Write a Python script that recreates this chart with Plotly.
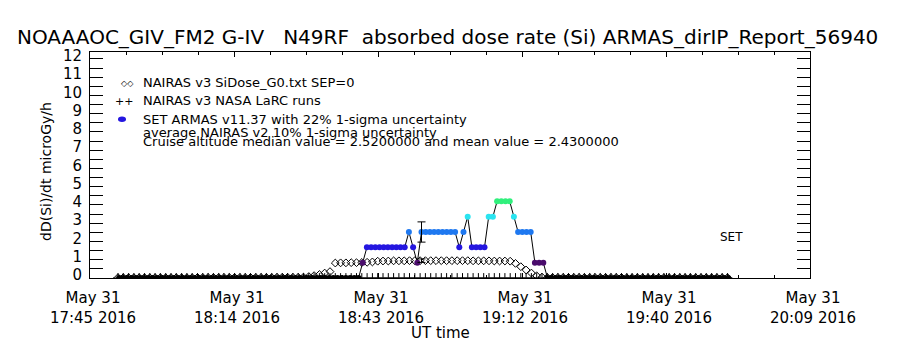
import plotly.graph_objects as go

# ---------------- data ----------------
# time axis in minutes after 17:45 UT, 31 May 2016
X_TICK_MIN = [0.0, 28.8, 57.6, 86.4, 115.2, 144.0]
X_TICK_TEXT = ["May 31<br>17:45 2016", "May 31<br>18:14 2016", "May 31<br>18:43 2016",
               "May 31<br>19:12 2016", "May 31<br>19:40 2016", "May 31<br>20:09 2016"]
Y_TICKS = [0, 1, 2, 3, 4, 5, 6, 7, 8, 9, 10, 11, 12]

# NAIRAS v3 SiDose model (sample cadence ~1.06 min)
NAIRAS_T0 = 5.6
NAIRAS_DT = 1.06
NAIRAS_V = [
    0.02, 0.02, 0.02, 0.02, 0.02, 0.02, 0.02, 0.02, 0.02, 0.02, 0.02, 0.02, 0.02, 0.02, 0.02,
    0.03, 0.03, 0.03, 0.03, 0.03, 0.03, 0.03, 0.03, 0.03, 0.03, 0.03, 0.03, 0.03, 0.03, 0.03,
    0.04, 0.04, 0.04, 0.04, 0.04,
    0.05, 0.08, 0.13, 0.19, 0.27, 0.35,
    0.82, 0.83, 0.83, 0.84, 0.84, 0.85, 0.86,
    0.88, 0.92,
    0.93, 0.93, 0.94, 0.94, 0.94, 0.95, 0.95, 0.95, 0.95, 0.95, 0.95, 0.95, 0.95, 0.95, 0.95,
    0.95, 0.95, 0.94, 0.94, 0.94, 0.94, 0.93, 0.93, 0.93, 0.92,
    0.80, 0.62, 0.44, 0.27, 0.12, 0.05,
    0.03, 0.03, 0.03, 0.03, 0.03, 0.03, 0.03, 0.03, 0.03, 0.03, 0.03, 0.03, 0.03, 0.03, 0.03,
    0.02, 0.02, 0.02, 0.02, 0.02, 0.02, 0.02, 0.02, 0.02, 0.02,
    0.02, 0.02, 0.02, 0.02, 0.02, 0.02, 0.02, 0.02, 0.02, 0.02,
]
NAIRAS_LARC_V = 0.0  # LaRC runs plotted at zero

# SET ARMAS v11.37 dose rate (sample cadence ~0.84 min)
ARMAS_T0 = 5.82
ARMAS_DT = 0.84
ARMAS_V = [
    0, 0, 0, 0, 0, 0, 0, 0, 0, 0, 0, 0, 0, 0, 0, 0, 0, 0, 0, 0,
    0, 0, 0, 0, 0, 0, 0, 0, 0, 0, 0, 0, 0, 0, 0, 0, 0, 0, 0, 0,
    0, 0, 0, 0, 0, 0, 0, 0, 0, 0, 0, 0, 0, 0, 0, 0, 0, 0,
    0.84,
    1.68, 1.68, 1.68, 1.68, 1.68, 1.68, 1.68, 1.68, 1.68, 1.68,
    2.52, 1.68, 0.84,
    2.52, 2.52, 2.52, 2.52, 2.52, 2.52, 2.52, 2.52, 2.52,
    1.68, 2.52, 3.36,
    1.68, 1.68, 1.68, 1.68,
    3.36, 3.36,
    4.20, 4.20, 4.20, 4.20,
    3.36,
    2.52, 2.52, 2.52, 2.52,
    0.84, 0.84, 0.84,
    0, 0, 0, 0, 0, 0, 0, 0, 0, 0, 0, 0, 0, 0, 0, 0, 0, 0, 0, 0,
    0, 0, 0, 0, 0, 0, 0, 0, 0, 0, 0, 0, 0, 0, 0, 0, 0, 0, 0, 0,
    0, 0, 0, 0,
]
ARMAS_LEVELS = [0.0, 0.84, 1.68, 2.52, 3.36, 4.20]
ARMAS_LEVEL_COLORS = ["#000000", "#4a0c6c", "#2416e0", "#1e78f0", "#2ae4f0", "#30f07c"]

MEDIAN_VALUE = 2.52
MEAN_VALUE = 2.43
ARMAS_UNC = 0.22
NAIRAS_UNC = 0.10
ERRBAR_INDEX = 72  # ARMAS sample where the uncertainty bars are drawn

TITLE = "NOAAAOC_GIV_FM2 G-IV   N49RF  absorbed dose rate (Si) ARMAS_dirIP_Report_56940"
LEGEND_NAIRAS = "NAIRAS v3 SiDose_G0.txt SEP=0"
LEGEND_LARC = "NAIRAS v3 NASA LaRC runs"
LEGEND_ARMAS = "SET ARMAS v11.37 with 22% 1-sigma uncertainty"
NOTE_NAIRAS = "average NAIRAS v2 10% 1-sigma uncertainty"

# ---------------- figure ----------------
FONT = "DejaVu Sans"
nairas_t = [NAIRAS_T0 + NAIRAS_DT * i for i in range(len(NAIRAS_V))]
armas_t = [ARMAS_T0 + ARMAS_DT * i for i in range(len(ARMAS_V))]


def level_color(v):
    best = min(range(len(ARMAS_LEVELS)), key=lambda j: abs(ARMAS_LEVELS[j] - v))
    return ARMAS_LEVEL_COLORS[best]


armas_colors = [level_color(v) for v in ARMAS_V]

fig = go.Figure()

# NAIRAS LaRC runs (+ at zero)
fig.add_trace(go.Scatter(
    x=nairas_t, y=[NAIRAS_LARC_V] * len(nairas_t), mode="markers",
    marker=dict(symbol="cross-thin", size=7, line=dict(width=1, color="black"), color="black"),
    name=LEGEND_LARC))

# ARMAS connecting line
fig.add_trace(go.Scatter(
    x=armas_t, y=ARMAS_V, mode="lines", line=dict(color="black", width=1),
    hoverinfo="skip"))

# NAIRAS diamonds
fig.add_trace(go.Scatter(
    x=nairas_t, y=NAIRAS_V, mode="markers",
    marker=dict(symbol="diamond-open", size=6, color="black", line=dict(width=1)),
    name=LEGEND_NAIRAS))

# ARMAS coloured samples
fig.add_trace(go.Scatter(
    x=armas_t, y=ARMAS_V, mode="markers",
    marker=dict(symbol="circle", size=6, color=armas_colors, line=dict(width=0)),
    name=LEGEND_ARMAS))

# uncertainty bars
t_err = armas_t[ERRBAR_INDEX]
nairas_at_err = min(zip(nairas_t, NAIRAS_V), key=lambda p: abs(p[0] - t_err))[1]
fig.add_trace(go.Scatter(
    x=[t_err, t_err], y=[MEDIAN_VALUE, nairas_at_err], mode="markers",
    marker=dict(size=1, color="rgba(0,0,0,0)"),
    error_y=dict(type="data", array=[MEDIAN_VALUE * ARMAS_UNC, nairas_at_err * NAIRAS_UNC],
                 color="black", thickness=1, width=4),
    hoverinfo="skip"))

L, R, T, B = 90, 90, 52, 72
PW, PH = 900 - L - R, 350 - T - B


def px_x(p):
    return (p - L) / PW


def px_y(p):
    return (350 - B - p) / PH


annotations = [
    dict(text=TITLE, x=px_x(447), y=px_y(37), font=dict(size=20)),
    dict(text="dD(Si)/dt microGy/h", x=px_x(46), y=px_y(172), textangle=-90, font=dict(size=14)),
    dict(text="UT time", x=px_x(440), y=px_y(333), font=dict(size=15)),
    dict(text="SET", x=px_x(731), y=px_y(237), font=dict(size=12)),
    # legend keys
    dict(text="\u25c7\u25c7", x=px_x(127), y=px_y(83), font=dict(size=8)),
    dict(text="++", x=px_x(124), y=px_y(101), font=dict(size=11)),
    # legend texts
    dict(text=LEGEND_NAIRAS, x=px_x(141), y=px_y(82), xanchor="left", font=dict(size=13)),
    dict(text=LEGEND_LARC, x=px_x(141), y=px_y(100), xanchor="left", font=dict(size=13)),
    dict(text=LEGEND_ARMAS, x=px_x(141), y=px_y(119), xanchor="left", font=dict(size=13)),
    dict(text=NOTE_NAIRAS, x=px_x(141), y=px_y(132), xanchor="left", font=dict(size=13)),
    dict(text="Cruise altitude median value = %.7f and mean value = %.7f" % (MEDIAN_VALUE, MEAN_VALUE),
         x=px_x(141), y=px_y(141), xanchor="left", font=dict(size=13)),
]
for a in annotations:
    a.update(xref="paper", yref="paper", showarrow=False)
    a.setdefault("xanchor", "center")
    a["yanchor"] = "middle"

shapes = [
    dict(type="circle", xref="paper", yref="paper",
         x0=px_x(118), x1=px_x(126), y0=px_y(122), y1=px_y(116.5),
         fillcolor="#2416e0", line=dict(width=0)),
]

fig.update_layout(
    width=900, height=350,
    margin=dict(l=L, r=R, t=T, b=B, pad=0),
    paper_bgcolor="white", plot_bgcolor="white",
    font=dict(family=FONT, color="black", size=12),
    annotations=annotations,
    shapes=shapes,
    showlegend=False,
    xaxis=dict(range=[0, 144], tickvals=X_TICK_MIN, ticktext=X_TICK_TEXT,
               ticks="inside", ticklen=5, tickcolor="black", showgrid=False, zeroline=False,
               showline=True, linecolor="black", linewidth=1, mirror="ticks",
               tickfont=dict(size=15), ticklabelstandoff=6, ticklabelshift=3,
               minor=dict(dtick=7.2, tick0=0, ticks="inside", ticklen=3, tickcolor="black")),
    yaxis=dict(range=[0, 12.38], tickvals=Y_TICKS, ticktext=[str(v) for v in Y_TICKS],
               ticks="inside", ticklen=13, tickcolor="black", showgrid=False, zeroline=False,
               showline=True, linecolor="black", linewidth=1, mirror="ticks",
               tickfont=dict(size=15), ticklabelstandoff=4, ticklabelshift=-3,
               minor=dict(dtick=0.5, tick0=0, ticks="inside", ticklen=13, tickcolor="black")),
)

fig.write_html("out.html")
